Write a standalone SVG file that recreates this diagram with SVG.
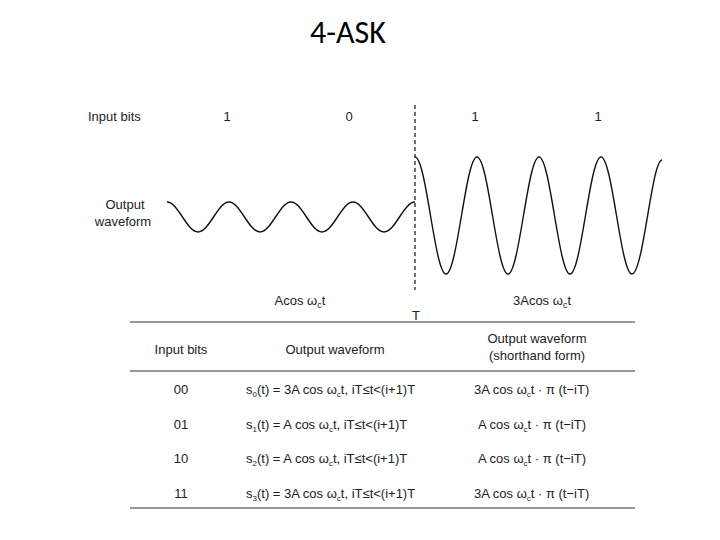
<svg xmlns="http://www.w3.org/2000/svg" width="720" height="540" viewBox="0 0 720 540">
<style>
.t{font-family:"Liberation Sans",Arial,sans-serif;font-size:13px;fill:#222}
.c{text-anchor:middle}
.w{fill:none;stroke:#111;stroke-width:1.4}
.r{stroke:#333;stroke-width:1.2}
</style>
<rect width="720" height="540" fill="#fff"/>
<text x="348" y="43" font-family="Carlito,'Liberation Sans',sans-serif" font-size="32" text-anchor="middle" fill="#000">4-ASK</text>
<g id="labels">
<text class="t" x="88" y="121">Input bits</text>
<text class="t c" x="227" y="121">1</text>
<text class="t c" x="349" y="121">0</text>
<text class="t c" x="475" y="121">1</text>
<text class="t c" x="598" y="121">1</text>
<text class="t c" x="125" y="209">Output</text>
<text class="t c" x="123" y="226">waveform</text>
<text class="t c" x="300" y="305">Acos ω<tspan font-size="9" dy="3">c</tspan><tspan dy="-3">t</tspan></text>
<text class="t c" x="542" y="305">3Acos ω<tspan font-size="9" dy="3">c</tspan><tspan dy="-3">t</tspan></text>
<text class="t c" x="416" y="320" font-size="11">T</text>
</g>
<g id="waveform">
<line x1="415" y1="105" x2="415" y2="290" stroke="#111" stroke-width="1.2" stroke-dasharray="4,3"/>
<path class="w" d="M167,202 c11.3,0 19.7,30 31,30 c11.3,0 19.7,-30 31,-30 c11.3,0 19.7,30 31,30 c11.3,0 19.7,-30 31,-30 c11.3,0 19.7,30 31,30 c11.3,0 19.7,-30 31,-30 c11.3,0 19.7,30 31,30 c11.3,0 19.7,-30 31,-30"/>
<path class="w" d="M415,157 c11.3,0 19.7,117 31,117 c11.3,0 19.7,-117 31,-117 c11.3,0 19.7,117 31,117 c11.3,0 19.7,-117 31,-117 c11.3,0 19.7,117 31,117 c11.3,0 19.7,-117 31,-117 c11.3,0 19.7,117 31,117 c11.3,0 19.7,-114 30,-114"/>
</g>
<g id="table">
<line class="r" x1="130" y1="322" x2="635" y2="322"/>
<line class="r" x1="130" y1="371" x2="635" y2="371"/>
<line class="r" x1="130" y1="508" x2="635" y2="508"/>
<text class="t c" x="181" y="354">Input bits</text>
<text class="t c" x="335" y="354">Output waveform</text>
<text class="t c" x="537" y="343">Output waveform</text>
<text class="t c" x="537" y="360">(shorthand form)</text>
<text class="t c" x="181" y="394">00</text>
<text class="t c" x="181" y="429">01</text>
<text class="t c" x="181" y="463">10</text>
<text class="t c" x="181" y="498">11</text>
<text class="t" x="246" y="394">s<tspan font-size="8" dy="3">0</tspan><tspan dy="-3">(t) = 3A cos ω</tspan><tspan font-size="8" dy="3">c</tspan><tspan dy="-3">t, iT≤t&lt;(i+1)T</tspan></text>
<text class="t" x="246" y="429">s<tspan font-size="8" dy="3">1</tspan><tspan dy="-3">(t) = A cos ω</tspan><tspan font-size="8" dy="3">c</tspan><tspan dy="-3">t, iT≤t&lt;(i+1)T</tspan></text>
<text class="t" x="246" y="463">s<tspan font-size="8" dy="3">2</tspan><tspan dy="-3">(t) = A cos ω</tspan><tspan font-size="8" dy="3">c</tspan><tspan dy="-3">t, iT≤t&lt;(i+1)T</tspan></text>
<text class="t" x="246" y="498">s<tspan font-size="8" dy="3">3</tspan><tspan dy="-3">(t) = 3A cos ω</tspan><tspan font-size="8" dy="3">c</tspan><tspan dy="-3">t, iT≤t&lt;(i+1)T</tspan></text>
<text class="t" x="474" y="394">3A cos ω<tspan font-size="8" dy="3">c</tspan><tspan dy="-3">t · π (t−iT)</tspan></text>
<text class="t" x="478" y="429">A cos ω<tspan font-size="8" dy="3">c</tspan><tspan dy="-3">t · π (t−iT)</tspan></text>
<text class="t" x="478" y="463">A cos ω<tspan font-size="8" dy="3">c</tspan><tspan dy="-3">t · π (t−iT)</tspan></text>
<text class="t" x="474" y="498">3A cos ω<tspan font-size="8" dy="3">c</tspan><tspan dy="-3">t · π (t−iT)</tspan></text>
</g>
</svg>
